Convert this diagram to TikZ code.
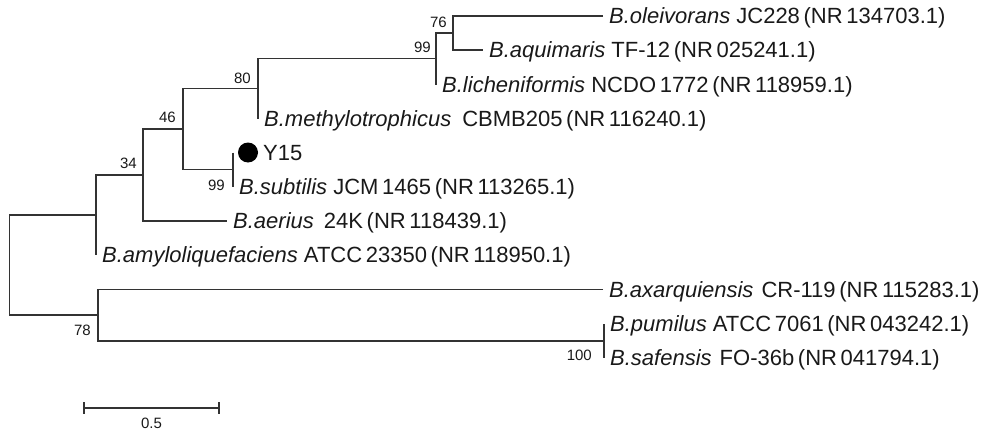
\documentclass[tikz,border=0pt]{standalone}
\usepackage{fontspec}
\setmainfont{Liberation Sans}
\begin{document}
\begin{tikzpicture}[x=1pt,y=-1pt,
  br/.style={line width=1.3pt, draw=black!80},
  tiplab/.style={anchor=base west, inner sep=0pt, text=black!90, font=\fontsize{22}{26}\selectfont},
  boot/.style={anchor=east, inner sep=0pt, text=black!90, font=\fontsize{15}{18}\selectfont}]
\useasboundingbox (0,0) rectangle (993,436);
% internal nodes
\coordinate (n76)   at (453,33);
\coordinate (n99a)  at (436,58.5);
\coordinate (n80)   at (258,88.5);
\coordinate (nY)    at (233,169.75);
\coordinate (n46)   at (183,129);
\coordinate (n34)   at (143,175);
\coordinate (n96)   at (96,215);
\coordinate (nOut2) at (604,341);
\coordinate (nOut)  at (98,315);
\coordinate (root)  at (9.5,265);
% tips
\coordinate (tOle) at (603,16);
\coordinate (tAqu) at (483,50);
\coordinate (tLic) at (436,84.5);
\coordinate (tMet) at (258,118.5);
\coordinate (tY)   at (233,152.5);
\coordinate (tSub) at (233,187);
\coordinate (tAer) at (227,221);
\coordinate (tAmy) at (96,255);
\coordinate (tAxa) at (603,289.5);
\coordinate (tPum) at (604,324);
\coordinate (tSaf) at (604,358);
% branches
\draw[br] (tOle) -| (n76) |- (tAqu);
\draw[br] (n76) -| (n99a) |- (tLic);
\draw[br] (n99a) -| (n80) |- (tMet);
\draw[br] (tY) -| (nY) |- (tSub);
\draw[br] (n80) -| (n46) |- (nY);
\draw[br] (n46) -| (n34) |- (tAer);
\draw[br] (n34) -| (n96) |- (tAmy);
\draw[br] (n96) -| (root) |- (nOut);
\draw[br] (tAxa) -| (nOut) |- (nOut2);
\draw[br] (tPum) -| (nOut2) |- (tSaf);
% tip labels
\node[tiplab] (lOle) at ([shift={(6,7.7)}]tOle) {\textit{B.oleivorans} JC228\,(NR\,134703.1)};
\node[tiplab] (lAqu) at ([shift={(6,7.7)}]tAqu) {\textit{B.aquimaris} TF-12\,(NR\,025241.1)};
\node[tiplab] (lLic) at ([shift={(6,7.7)}]tLic) {\textit{B.licheniformis} NCDO\,1772\,(NR\,118959.1)};
\node[tiplab] (lMet) at ([shift={(6,7.7)}]tMet) {\textit{B.methylotrophicus}\hspace{11pt}CBMB205\,(NR\,116240.1)};
\node[circle, fill=black, inner sep=0pt, minimum size=20pt] (dot) at ([shift={(15,0)}]tY) {};
\node[tiplab] (lY) at ([shift={(15,7.7)}]dot) {Y15};
\node[tiplab] (lSub) at ([shift={(6,7.7)}]tSub) {\textit{B.subtilis} JCM\,1465\,(NR\,113265.1)};
\node[tiplab] (lAer) at ([shift={(6,7.7)}]tAer) {\textit{B.aerius}\hspace{10pt}24K\,(NR\,118439.1)};
\node[tiplab] (lAmy) at ([shift={(6,7.7)}]tAmy) {\textit{B.amyloliquefaciens} ATCC\,23350\,(NR\,118950.1)};
\node[tiplab] (lAxa) at ([shift={(6,7.7)}]tAxa) {\textit{B.axarquiensis}\hspace{8pt}CR-119\,(NR\,115283.1)};
\node[tiplab] (lPum) at ([shift={(6,7.7)}]tPum) {\textit{B.pumilus} ATCC\,7061\,(NR\,043242.1)};
\node[tiplab] (lSaf) at ([shift={(6,7.7)}]tSaf) {\textit{B.safensis}\hspace{8pt}FO-36b\,(NR\,041794.1)};
% bootstrap values
\node[boot] (b76)  at ([shift={(-6,-11)}]n76) {76};
\node[boot] (b99a) at ([shift={(-5,-11.5)}]n99a) {99};
\node[boot] (b80)  at ([shift={(-7,-10.5)}]n80) {80};
\node[boot] (b46)  at ([shift={(-7,-12)}]n46) {46};
\node[boot] (b34)  at ([shift={(-6,-12)}]n34) {34};
\node[boot] (b99b) at ([shift={(-8,15.25)}]nY) {99};
\node[boot] (b78)  at ([shift={(-7,15.5)}]nOut) {78};
\node[boot] (b100) at ([shift={(-12,14)}]nOut2) {100};
% scale bar
\coordinate (sbL) at (84,408);
\coordinate (sbR) at (219,408);
\draw[br] (sbL) -- (sbR);
\draw[br] ([shift={(0,-6)}]sbL) -- ([shift={(0,6)}]sbL);
\draw[br] ([shift={(0,-6)}]sbR) -- ([shift={(0,6)}]sbR);
\node[boot, anchor=center] (sblab) at (151.5,423) {0.5};
\end{tikzpicture}
\end{document}
